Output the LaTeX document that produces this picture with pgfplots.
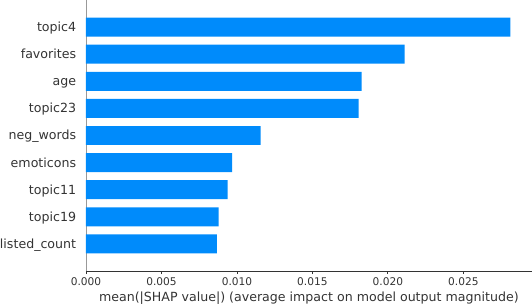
\documentclass[border=0pt]{standalone}
\usepackage{pgfplots}
\pgfplotsset{compat=1.18}
\usepackage{fontspec}
\setmainfont{DejaVu Sans}
\definecolor{shapblue}{HTML}{008BFB}
\definecolor{axc}{HTML}{333333}
\definecolor{vline}{HTML}{999999}
\begin{document}
\begin{tikzpicture}
\begin{axis}[
  at={(0,0)}, anchor=south west,
  scale only axis, width=445.7bp, height=271bp,
  xmin=0, xmax=0.02953, ymin=-1, ymax=9,
  xbar, bar width=0.7,
  axis x line*=bottom, axis y line*=left,
  x axis line style={axc, line width=0.8bp},
  y axis line style={vline, line width=0.8bp},
  xtick={0,0.005,0.01,0.015,0.02,0.025},
  scaled x ticks=false,
  tick align=outside, major tick length=3.2bp,
  xtick style={axc, line width=0.8bp},
  ytick={0,1,2,3,4,5,6,7,8},
  yticklabels={listed\_count,topic19,topic11,emoticons,neg\_words,topic23,age,favorites,topic4},
  ytick style={draw=none},
  yticklabel style={font=\fontsize{12.6bp}{14bp}\selectfont, text=axc, anchor=base east, inner sep=0pt, xshift=-6.5bp, yshift=-4.5bp},
  xticklabel style={font=\fontsize{10.6bp}{12bp}\selectfont, text=axc, anchor=base, inner sep=0pt, yshift=-11bp,
    /pgf/number format/.cd, fixed, fixed zerofill, precision=3, assume math mode=true},
  xlabel={mean(|SHAP value|) (average impact on model output magnitude)},
  xlabel style={font=\fontsize{12.6bp}{14bp}\selectfont, text=axc, at={(axis description cs:0.5,0)}, anchor=base, inner sep=0pt, yshift=-30.5bp},
]
\addplot[draw=none, fill=shapblue] coordinates {
(0.00867,0) (0.00878,1) (0.00939,2) (0.00968,3) (0.01157,4) (0.01806,5) (0.01826,6) (0.02111,7) (0.02812,8)
};
\end{axis}
\pgfresetboundingbox
\useasboundingbox (-86bp,-34bp) rectangle (446bp,271bp);
\end{tikzpicture}
\end{document}
